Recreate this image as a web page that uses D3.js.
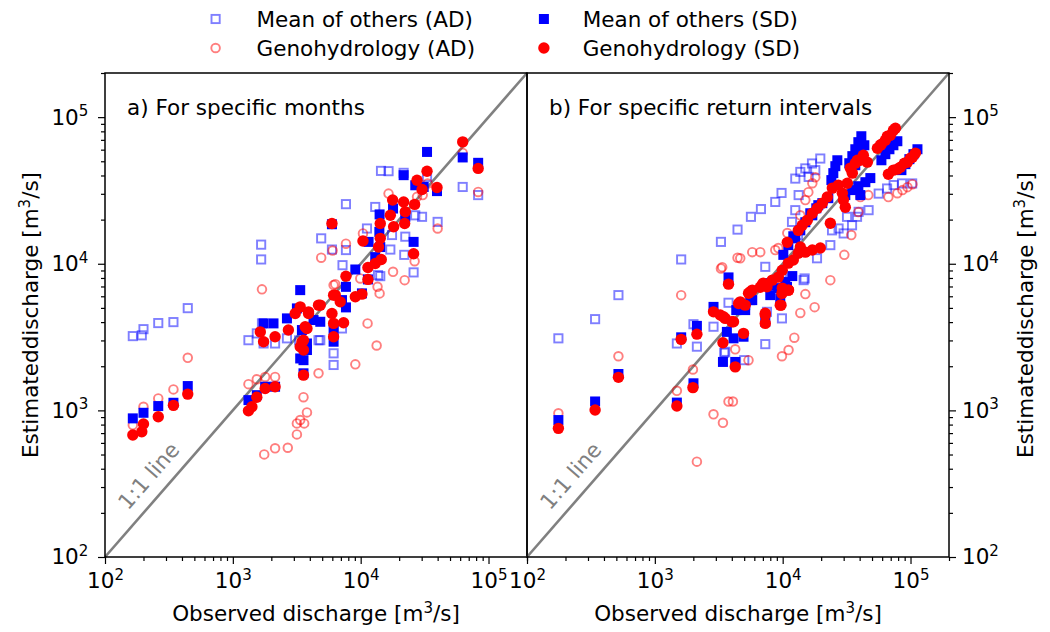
<!DOCTYPE html>
<html>
<head>
<meta charset="utf-8">
<script src="https://cdn.jsdelivr.net/npm/d3@7"></script>
<style>
  body { margin: 0; background: #fff; }
  svg { display: block; }
</style>
</head>
<body>
<svg id="chart" width="1050" height="632"></svg>
<script>
// ---- Observed vs estimated discharge [m3/s], pairs of [observed, estimated] ----

// a) specific months
const monthsMeanAD = [
  [165,3210],[194,3250],[200,3580],[261,3940],[343,4000],[444,4980],
  [1665,13500],[1665,10700],
  [1690,3920],[1325,3010],[1540,3350],[1740,2860],[2140,2860],[2650,3100],[4680,3010],
  [4830,3010],[6140,2450],[6140,2040],[7140,3620],[3300,3000],
  [14420,43000],[16520,42800],[21680,41700],[33040,39100],[62810,33400],[82990,29400],
  [7670,25500],[13000,24400],[30200,20900],[26730,21400],[39990,19300],[11200,17400],
  [4910,14900],[5960,12500],[7670,12400],[17580,15700],[22340,15300],[17060,12500],
  [21930,11500],[7210,9780],[13670,8360],[25940,8730],[14230,8230]
];
const monthsGenoAD = [
  [165,794],[200,1059],[261,1207],[343,1390],[444,2284],
  [1690,6690],[1325,1510],[1540,1630],[1790,1690],[2140,1690],[3570,1230],[3800,969],
  [3170,815],[3365,859],[3615,815],[3170,686],[1760,501],[2140,551],[2690,556],[4680,1790],
  [6140,7150],[13550,6960],[14060,6280],[11320,3920],[13330,2770],[9080,2060],[22080,7730],
  [62810,57000],[82990,30900],[16520,30100],[27590,28600],[30550,29400],[33420,35300],
  [39990,17400],[10420,16100],[7670,13700],[4910,11000],[6030,12300],[26420,10400],
  [17910,8810],[6330,7260],[9930,7940]
];
const monthsMeanSD = [
  [165,882],[200,963],[261,1070],[343,1127],[444,1465],
  [3365,6610],[3170,4960],[1740,3920],[2080,3920],[2650,4240],[3470,3530],[4280,4130],
  [3800,2580],[3365,2260],[3570,1790],[2140,1450],[1790,1450],[1540,1270],[1325,1175],
  [7670,6960],[7670,5040],[4830,4020],[6140,3530],[3570,2200],[10230,6280],[3800,2860],[6140,2940],
  [33040,57900],[62810,53100],[82990,48800],[21680,40200],[26730,34300],[31110,33400],
  [39540,31300],[14060,21700],[17910,23800],[22340,20900],[5960,18600],[14000,16500],
  [11530,14100],[25940,14100],[14230,13000],[13000,11100],[9080,9140],[11400,7820],[7140,5650]
];
const monthsGenoSD = [
  [165,679],[194,715],[200,807],[261,904],[343,1082],[444,1291],
  [3365,5080],[3910,4580],[3075,4580],[4680,5220],[1640,3430],[1740,2940],[2140,3180],
  [2720,3530],[3470,2940],[3800,3620],[3365,2720],[3570,1740],[2140,1450],[1790,1410],
  [1540,1230],[1410,1060],[1325,993],
  [6140,6110],[6920,5500],[9080,5950],[10230,6210],[4830,5220],[5960,4580],[3910,4700],
  [3680,3720],[6140,3920],[7350,3960],[6140,3180],[3570,3010],[3570,2580],
  [62810,67800],[82990,44700],[33040,42800],[27590,37100],[30200,32100],[39540,33100],
  [17780,27200],[21680,26400],[26420,25400],[22340,22600],[17060,21400],[14230,18800],
  [22080,18800],[18110,17900],[5960,18800],[10420,14300],[14230,14900],[13800,13000],
  [25940,11700],[14490,10700],[13000,10050],[11400,9440],[7670,8230],[11400,7820],[6330,6110]
];

// b) specific return intervals
const intervalsMeanAD = [
  [176,3100],[341,4190],[519,6110],[1607,10700],[2005,3870],[2877,3720],[1487,2860],
  [2133,2720],[3770,5420],[3490,2470],
  [3289,14100],[4435,17100],[5645,20900],[6760,23600],[8750,26400],[9800,30400],
  [12550,38100],[13740,42300],[15040,44700],[16950,48300],[19690,52200],
  [13330,29400],[12550,23200],[11830,19300],[13180,15700],[23590,13400],[18560,10900],
  [7310,9530],[9870,8590],[14850,7940],
  [30000,16100],[34880,18300],[38170,20900],[46990,23200],[56380,30100],[65560,32600],
  [73810,34400],[85900,35300],[103000,35300],
  [27370,17400],[24330,16900],[31860,20900],[39280,22600],[15970,39100],[17990,43500],
  [7535,4700],[9870,4240],[7310,2830],[3550,2510],[5005,2200],[14580,7730]
];
const intervalsGenoAD = [
  [176,955],[519,2340],[1607,6110],[1487,1360],[1986,1900],[2877,940],[3410,823],
  [3770,1150],[4080,1150],[2133,447],[4255,2610],[4435,11000],[3289,9290],
  [23590,7730],[15040,6210],[17780,5060],[13740,4620],[12330,3130],[11120,2580],
  [9870,2340],[5405,2200],
  [17990,38900],[17060,35400],[15880,30800],[15040,27200],[13740,21400],[10870,16200],
  [9240,12800],[5780,12000],[4655,10900],[6680,12000],[8750,12400],[23590,18900],
  [30350,11500],[34430,15700],[39080,22500],[40530,28500],[46760,29400],[67120,28500],
  [78890,30300],[86430,31800],[94600,33300],[103500,34900],[3365,9480]
];
const intervalsMeanSD = [
  [176,859],[341,1150],[519,1770],[1607,3150],[2133,3770],[1487,1130],[2005,1530],
  [2877,5080],[3660,3430],[3410,2140],[4125,3100],[4255,2140],[3770,8070],
  [5090,4830],[5570,5650],[7310,4020],[4940,3180],[9575,5800],[8000,7150],[10810,6960],
  [33190,48500],[35070,54200],[37000,60400],[39080,67500],[41240,74100],
  [37000,47000],[39080,52500],[41240,58600],[43540,64300],
  [24040,37200],[24900,41500],[25820,46300],[26770,50800],
  [59200,50800],[63570,55900],[68400,60400],[73480,64300],[78890,68500],
  [84900,43500],[91200,47800],[98000,51700],[105400,55900],[113300,60400],
  [30900,29400],[35070,31800],[39080,33800],[44340,36000],[48500,38400],[40530,29400],
  [16440,22100],[18320,23900],[20420,25900],[22750,28000],
  [12550,14900],[13740,16900],[15040,19200],[17060,21400],[19000,25100],
  [10120,11500],[11070,13400],[12110,15400],
  [8000,6110],[9240,6820],[10480,7500],[11890,8240],[8000,7380],
  [4335,4830],[5090,5220],[5780,5650]
];
const intervalsGenoSD = [
  [176,754],[341,1005],[519,1680],[1607,3050],[2133,3310],[1487,1070],[1986,1430],
  [2877,4700],[3245,4470],[3550,4240],[4005,4020],[3410,2890],[4255,1980],[3770,7260],[4520,5360],
  [5570,6430],[4655,5500],[5090,5220],[3445,4350],[4125,4020],[4940,3350],[7310,4470],
  [7310,3920],[9700,5220],[9870,6280],[11120,6610],[6890,7150],[7535,6960],
  [73480,81400],[69600,75300],[63570,69600],[58080,64300],[55060,61400],[76200,84000],
  [59200,65300],[65900,74100],
  [103500,53300],[94600,49300],[83300,45500],[73480,43500],[67120,40800],[78890,44200],
  [89600,48500],[99800,52500],[109200,56800],
  [45940,49300],[40530,50800],[37000,48500],[35070,41500],[32040,35400],[29300,30300],
  [29850,27200],[30900,24300],[27230,34400],[24450,32800],[22340,28500],[20420,25900],
  [18660,23900],[17060,22100],[15590,19800],[14230,18300],[13250,16900],[23590,18900],
  [10870,14000],[13740,13000],[15040,12000],[17060,12400],[19690,12800],[13250,11800],
  [12110,10600],[11070,10100],[9930,9040],[9240,8110],[8290,7730],[7050,7380],[6680,6920],
  [9930,6820],[11070,6610],[5780,6610],[5405,6300],[9575,5220],[7310,4600],
  [33820,44900],[38400,50800],[42760,55000]
];

// axis ticks and labels
const domain = [1e2, 2e5];
const majorTicks = [1e2, 1e3, 1e4, 1e5];
const minorMultipliers = [2, 3, 4, 5, 6, 7, 8, 9];
const panelTitles = ["a) For specific months", "b) For specific return intervals"];
const seriesNames = ["Mean of others (AD)", "Genohydrology (AD)", "Mean of others (SD)", "Genohydrology (SD)"];
const xLabel = ["Observed discharge [m", "3", "/s]"];
const yLabel = ["Estimateddischarge [m", "3", "/s]"];
const oneToOneLabel = "1:1 line";

// ---- layout & style ----
const FONT = "'DejaVu Sans', sans-serif";
const FS = 21.5;
const plotTop = 73, plotBottom = 557;
const panels = [
  { x0: 105, x1: 527, side: "left",  data: [monthsMeanAD, monthsGenoAD, monthsMeanSD, monthsGenoSD] },
  { x0: 527, x1: 949, side: "right", data: [intervalsMeanAD, intervalsGenoAD, intervalsMeanSD, intervalsGenoSD] }
];
const styles = [
  { shape: "square", fill: "none", stroke: "rgba(0,0,255,0.5)" },
  { shape: "circle", fill: "none", stroke: "rgba(255,0,0,0.5)" },
  { shape: "square", fill: "#0000ff", stroke: "none" },
  { shape: "circle", fill: "#ff0000", stroke: "none" }
];

const minorTicks = [];
for (let e = 2; e <= 5; e++) {
  for (const m of minorMultipliers) {
    const v = m * Math.pow(10, e);
    if (v <= domain[1]) minorTicks.push(v);
  }
}

const svg = d3.select("#chart")
  .attr("font-family", FONT);

const y = d3.scaleLog().domain(domain).range([plotBottom, plotTop]);

function drawMarker(g, style, cx, cy) {
  if (style.shape === "square") {
    const hollow = style.fill === "none";
    const s = hollow ? 8.2 : 10;
    g.append("rect")
      .attr("x", cx - s / 2).attr("y", cy - s / 2)
      .attr("width", s).attr("height", s)
      .attr("fill", style.fill)
      .attr("stroke", style.stroke)
      .attr("stroke-width", hollow ? 1.9 : 0);
  } else {
    const hollow = style.fill === "none";
    g.append("circle")
      .attr("cx", cx).attr("cy", cy)
      .attr("r", hollow ? 4.3 : 5.7)
      .attr("fill", style.fill)
      .attr("stroke", style.stroke)
      .attr("stroke-width", hollow ? 1.9 : 0);
  }
}

function powerLabels(sel) {
  sel.selectAll(".tick text").each(function (d) {
    const t = d3.select(this);
    const e = Math.round(Math.log10(d));
    t.text("10");
    t.append("tspan")
      .attr("font-size", "0.7em")
      .attr("dy", "-0.55em")
      .text(e);
  });
}

function superLabel(textSel, parts) {
  textSel.append("tspan").text(parts[0]);
  textSel.append("tspan").attr("font-size", FS * 0.7).attr("dy", -8).text(parts[1]);
  textSel.append("tspan").attr("dy", 8).text(parts[2]);
}

panels.forEach((p, i) => {
  const x = d3.scaleLog().domain(domain).range([p.x0, p.x1]);
  const g = svg.append("g");

  // 1:1 reference line
  g.append("path")
    .datum(domain)
    .attr("d", d3.line().x(d => x(d)).y(d => y(d)))
    .attr("stroke", "#808080")
    .attr("stroke-width", 2.6)
    .attr("fill", "none");

  const ang = Math.atan2(y(domain[0]) - y(domain[1]), x(domain[1]) - x(domain[0])) * 180 / Math.PI;
  const lx = x(290), ly = y(290);
  g.append("text")
    .attr("transform", `translate(${lx},${ly}) rotate(${-ang})`)
    .attr("dy", -13)
    .attr("text-anchor", "middle")
    .attr("font-size", FS)
    .attr("fill", "#808080")
    .text(oneToOneLabel);

  // scatter series
  p.data.forEach((series, k) => {
    const sg = g.append("g");
    series.forEach(d => drawMarker(sg, styles[k], x(d[0]), y(d[1])));
  });

  // frame
  g.append("rect")
    .attr("x", p.x0).attr("y", plotTop)
    .attr("width", p.x1 - p.x0).attr("height", plotBottom - plotTop)
    .attr("fill", "none").attr("stroke", "#000").attr("stroke-width", 1.5);

  // x axis
  const xMinor = g.append("g").attr("transform", `translate(0,${plotBottom})`)
    .call(d3.axisBottom(x).tickValues(minorTicks).tickSize(4).tickSizeOuter(0).tickFormat(""));
  const xMajor = g.append("g").attr("transform", `translate(0,${plotBottom})`)
    .call(d3.axisBottom(x).tickValues(majorTicks).tickSize(7).tickSizeOuter(0));
  [xMinor, xMajor].forEach(a => {
    a.select(".domain").remove();
    a.selectAll("line").attr("stroke", "#000").attr("stroke-width", 1.2);
  });
  xMajor.selectAll(".tick text")
    .attr("y", 31).attr("dy", null)
    .attr("font-size", FS).attr("font-family", FONT).attr("fill", "#000");
  powerLabels(xMajor);

  const xl = g.append("text")
    .attr("x", (p.x0 + p.x1) / 2).attr("y", 621)
    .attr("text-anchor", "middle").attr("font-size", FS);
  superLabel(xl, xLabel);

  // y axis
  const yx = p.side === "left" ? p.x0 : p.x1;
  const axisGen = p.side === "left" ? d3.axisLeft : d3.axisRight;
  const yMinor = g.append("g").attr("transform", `translate(${yx},0)`)
    .call(axisGen(y).tickValues(minorTicks).tickSize(4).tickSizeOuter(0).tickFormat(""));
  const yMajor = g.append("g").attr("transform", `translate(${yx},0)`)
    .call(axisGen(y).tickValues(majorTicks).tickSize(7).tickPadding(p.side === "left" ? 9.7 : 6).tickSizeOuter(0));
  [yMinor, yMajor].forEach(a => {
    a.select(".domain").remove();
    a.selectAll("line").attr("stroke", "#000").attr("stroke-width", 1.2);
  });
  yMajor.selectAll(".tick text")
    .attr("font-size", FS).attr("font-family", FONT).attr("fill", "#000");
  powerLabels(yMajor);

  const ylx = p.side === "left" ? 30 : 1025;
  const yl = g.append("text")
    .attr("transform", `translate(${ylx},${(plotTop + plotBottom) / 2}) rotate(-90)`)
    .attr("dy", "0.36em")
    .attr("text-anchor", "middle").attr("font-size", FS);
  superLabel(yl, yLabel);

  // panel title
  g.append("text")
    .attr("x", p.x0 + 22).attr("y", 115)
    .attr("font-size", FS)
    .text(panelTitles[i]);
});

// legend (two columns)
const legendPos = [
  { mx: 215.6, tx: 256.5, y: 19 },
  { mx: 215.6, tx: 256.5, y: 48 },
  { mx: 543.9, tx: 582.7, y: 19 },
  { mx: 543.9, tx: 582.7, y: 48 }
];
const legend = svg.append("g");
seriesNames.forEach((name, k) => {
  const lp = legendPos[k];
  drawMarker(legend, styles[k], lp.mx, lp.y);
  legend.append("text")
    .attr("x", lp.tx).attr("y", lp.y)
    .attr("dy", "0.36em")
    .attr("font-size", FS)
    .text(name);
});
</script>
</body>
</html>
